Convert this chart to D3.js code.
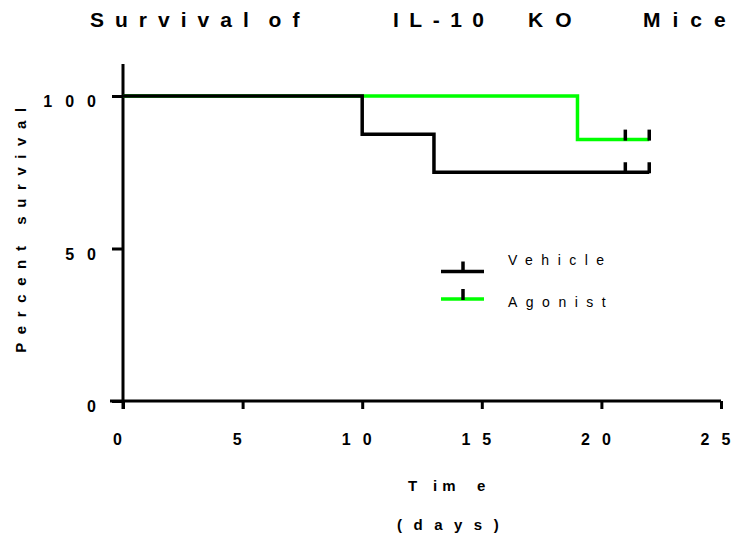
<!DOCTYPE html>
<html><head><meta charset="utf-8">
<script src="https://cdn.jsdelivr.net/npm/d3@7"></script>
<style>body{margin:0;background:#fff}svg{display:block}text{font-family:"Liberation Sans",Arial,sans-serif}</style>
</head><body>
<svg id="c" width="744" height="540"></svg>
<script>
const vehicleTime = [0, 10, 13, 22];
const vehicleSurv = [100, 87.5, 75, 75];
const vehicleCens = [21, 22];
const agonistTime = [0, 19, 22];
const agonistSurv = [100, 85.7, 85.7];
const agonistCens = [21, 22];
const xTicks = [0, 5, 10, 15, 20, 25];
const yTicks = [0, 50, 100];
const seriesNames = ["Vehicle", "Agonist"];
const seriesColors = ["#000000", "#00ff00"];
const titleWords = ["Survival of", "IL-10", "KO", "Mice"];

const svg = d3.select("#c");
const x = d3.scaleLinear().domain([0, 25]).range([123, 721]);
const y = d3.scaleLinear().domain([0, 110]).range([401, 65.5]);

// title
const title = svg.append("text").attr("y", 27).attr("font-size", 21).attr("font-weight", "bold");
const titleX = [90, 393, 528, 643];
const titleLS = [11, 10.5, 12, 12];
titleWords.forEach((w, i) => {
  title.append("tspan").attr("x", titleX[i])
    .style("letter-spacing", titleLS[i] + "px")
    .style("word-spacing", i === 0 ? "-8px" : "0px")
    .text(w + (i < titleWords.length - 1 ? " " : ""));
});

// axes
const xAxis = d3.axisBottom(x).tickValues(xTicks).tickSize(8).tickSizeOuter(0).tickPadding(24.6);
const gx = svg.append("g").attr("transform", "translate(0,401)").call(xAxis);
gx.select(".domain").remove();
gx.append("line").attr("x1", 110).attr("x2", x(25)).attr("y1", 0).attr("y2", 0)
  .attr("stroke", "#000").attr("stroke-width", 3);
gx.selectAll(".tick line").attr("stroke-width", 3);
gx.selectAll(".tick text").attr("font-size", 16).attr("font-weight", "bold")
  .attr("fill", "#000").style("letter-spacing", "12px").attr("font-family", "Liberation Sans, Arial, sans-serif");

const yAxis = d3.axisLeft(y).tickValues(yTicks).tickSize(11).tickSizeOuter(0).tickPadding(3);
const gy = svg.append("g").attr("transform", "translate(123,0)").call(yAxis);
gy.select(".domain").remove();
gy.append("line").attr("x1", 0).attr("x2", 0).attr("y1", 64).attr("y2", 409)
  .attr("stroke", "#000").attr("stroke-width", 3);
gy.selectAll(".tick line").attr("stroke-width", 3);
gy.selectAll(".tick text").attr("font-size", 16).attr("font-weight", "bold").attr("dy", "0.66em")
  .attr("fill", "#000").style("letter-spacing", "13px").attr("font-family", "Liberation Sans, Arial, sans-serif");

// axis titles
svg.append("text").attr("transform", "translate(26,226) rotate(-90)")
  .attr("text-anchor", "middle").attr("font-size", 15).attr("font-weight", "bold")
  .style("letter-spacing", "8.6px").text("Percent survival");

const tTitle = svg.append("text").attr("y", 491).attr("font-size", 15).attr("font-weight", "bold");
tTitle.append("tspan").attr("x", 408).text("T");
tTitle.append("tspan").attr("x", 433).style("letter-spacing", "5px").text("im");
tTitle.append("tspan").attr("x", 477).text("e");

svg.append("text").attr("x", 397).attr("y", 530)
  .attr("font-size", 15).attr("font-weight", "bold").style("letter-spacing", "11.5px").text("(days)");

// curves
const line = d3.line().x(d => x(d[0])).y(d => y(d[1])).curve(d3.curveStepAfter);
const series = [
  {t: vehicleTime, s: vehicleSurv, c: vehicleCens, color: seriesColors[0]},
  {t: agonistTime, s: agonistSurv, c: agonistCens, color: seriesColors[1]}
];
function survAt(sr, t) { let v = sr.s[0]; sr.t.forEach((tt, i) => { if (tt <= t) v = sr.s[i]; }); return v; }
[series[1], series[0]].forEach(sr => {
  svg.append("path").attr("d", line(sr.t.map((t, i) => [t, sr.s[i]])))
    .attr("fill", "none").attr("stroke", sr.color).attr("stroke-width", 3.5);
});
series.forEach(sr => {
  sr.c.forEach(ct => {
    const v = survAt(sr, ct);
    svg.append("line").attr("x1", x(ct)).attr("x2", x(ct)).attr("y1", y(v) + 1).attr("y2", y(v) - 10)
      .attr("stroke", "#000").attr("stroke-width", 3.5);
  });
});

// legend
const leg = svg.append("g");
seriesNames.forEach((n, i) => {
  const ly = 271.5 + i * 27.5;
  leg.append("line").attr("x1", 441).attr("x2", 484).attr("y1", ly).attr("y2", ly)
    .attr("stroke", seriesColors[i]).attr("stroke-width", 3.5);
  leg.append("line").attr("x1", 463).attr("x2", 463).attr("y1", ly + 1).attr("y2", ly - 10)
    .attr("stroke", "#000").attr("stroke-width", 3.5);
  leg.append("text").attr("x", 508).attr("y", 265 + i * 42).attr("font-size", 14)
    .style("letter-spacing", "8.5px").text(n);
});
</script>
</body></html>
